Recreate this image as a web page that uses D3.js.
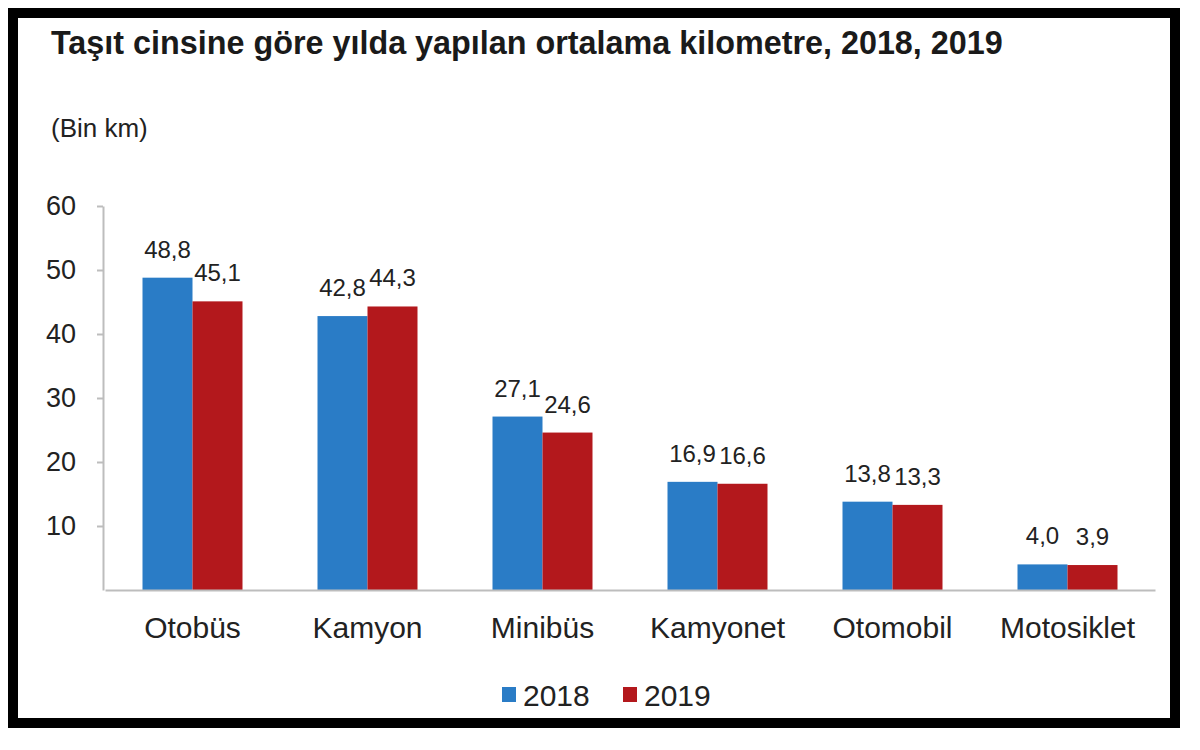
<!DOCTYPE html>
<html>
<head>
  <meta charset="utf-8">
  <title>Taşıt cinsine göre ortalama kilometre</title>
  <script src="https://d3js.org/d3.v7.min.js"></script>
  <style>
    body { margin: 0; background: #fff; }
    text { font-family: 'Liberation Sans', Arial, Helvetica, sans-serif; fill: #222; }
  </style>
</head>
<body>
  <script>
    const categories = ["Otobüs", "Kamyon", "Minibüs", "Kamyonet", "Otomobil", "Motosiklet"];
    const years = ["2018", "2019"];
    const values2018 = [48.8, 42.8, 27.1, 16.9, 13.8, 4.0];
    const values2019 = [45.1, 44.3, 24.6, 16.6, 13.3, 3.9];
    const yTicks = [10, 20, 30, 40, 50, 60];

    const width = 1200, height = 750;
    const colors = d3.scaleOrdinal().domain(years).range(["#2a7cc6", "#b3181c"]);

    const svg = d3.select("body").append("svg")
      .attr("width", width)
      .attr("height", height);

    // black picture frame
    svg.append("rect")
      .attr("x", 13).attr("y", 13)
      .attr("width", 1162).attr("height", 710)
      .attr("fill", "#fff")
      .attr("stroke", "#000")
      .attr("stroke-width", 10);

    const title = svg.append("text")
      .attr("x", 51).attr("y", 54)
      .style("font-weight", "bold")
      .style("font-size", "24px")
      .style("fill", "#1a1a1a")
      .text("Taşıt cinsine göre yılda yapılan ortalama kilometre, 2018, 2019");
    // fit title width to the reference
    const tw = title.node().getComputedTextLength();
    title.style("font-size", (24 * 952 / tw) + "px");

    svg.append("text")
      .attr("x", 51).attr("y", 137)
      .style("font-size", "26px")
      .text("(Bin km)");

    const x0 = d3.scaleBand().domain(categories).range([105, 1155]);
    const x1 = d3.scaleBand().domain(years).range([0, 100]);
    const y = d3.scaleLinear().domain([0, 60]).range([590, 206]);

    const rows = categories.map((c, i) => ({ cat: c, vals: [values2018[i], values2019[i]] }));

    // y axis
    const yAxis = svg.append("g")
      .attr("transform", "translate(103,0)")
      .call(d3.axisLeft(y).tickValues(yTicks).tickSize(6).tickSizeOuter(0).tickPadding(21));
    yAxis.select(".domain").attr("stroke", "#bdbdbd").attr("stroke-width", 2);
    yAxis.selectAll(".tick line").attr("stroke", "#bdbdbd").attr("stroke-width", 2);
    yAxis.selectAll(".tick text")
      .style("font-size", "27px")
      .style("font-family", "'Liberation Sans', Arial, sans-serif")
      .attr("fill", "#222");

    const groups = svg.selectAll("g.cat")
      .data(rows)
      .enter().append("g")
      .attr("class", "cat")
      .attr("transform", d => "translate(" + (x0(d.cat) + (x0.bandwidth() - 100) / 2) + ",0)");

    groups.selectAll("rect")
      .data(d => d.vals.map((v, j) => ({ year: years[j], v: v })))
      .enter().append("rect")
      .attr("x", d => x1(d.year))
      .attr("width", x1.bandwidth())
      .attr("y", d => y(d.v))
      .attr("height", d => y(0) - y(d.v))
      .attr("fill", d => colors(d.year));

    groups.selectAll("text.val")
      .data(d => d.vals.map((v, j) => ({ year: years[j], v: v })))
      .enter().append("text")
      .attr("class", "val")
      .attr("x", d => x1(d.year) + x1.bandwidth() / 2)
      .attr("y", d => y(d.v) - 20)
      .attr("text-anchor", "middle")
      .style("font-size", "24px")
      .text(d => d.v.toFixed(1).replace(".", ","));

    // x axis
    const xAxis = svg.append("g")
      .attr("transform", "translate(0," + y(0) + ")")
      .call(d3.axisBottom(x0).tickSize(0).tickPadding(48));
    xAxis.select(".domain").attr("stroke", "#bdbdbd").attr("stroke-width", 2);
    xAxis.selectAll(".tick text")
      .style("font-size", "30px")
      .style("font-family", "'Liberation Sans', Arial, sans-serif")
      .attr("fill", "#222")
      .attr("dy", 0);

    // legend
    const legend = svg.append("g").attr("transform", "translate(502,687)");
    const li = legend.selectAll("g")
      .data(years)
      .enter().append("g")
      .attr("transform", (d, i) => "translate(" + (i * 121) + ",0)");
    li.append("rect")
      .attr("width", 14).attr("height", 15)
      .attr("fill", d => colors(d));
    li.append("text")
      .attr("x", 21).attr("y", 19)
      .style("font-size", "30px")
      .text(d => d);
  </script>
</body>
</html>
